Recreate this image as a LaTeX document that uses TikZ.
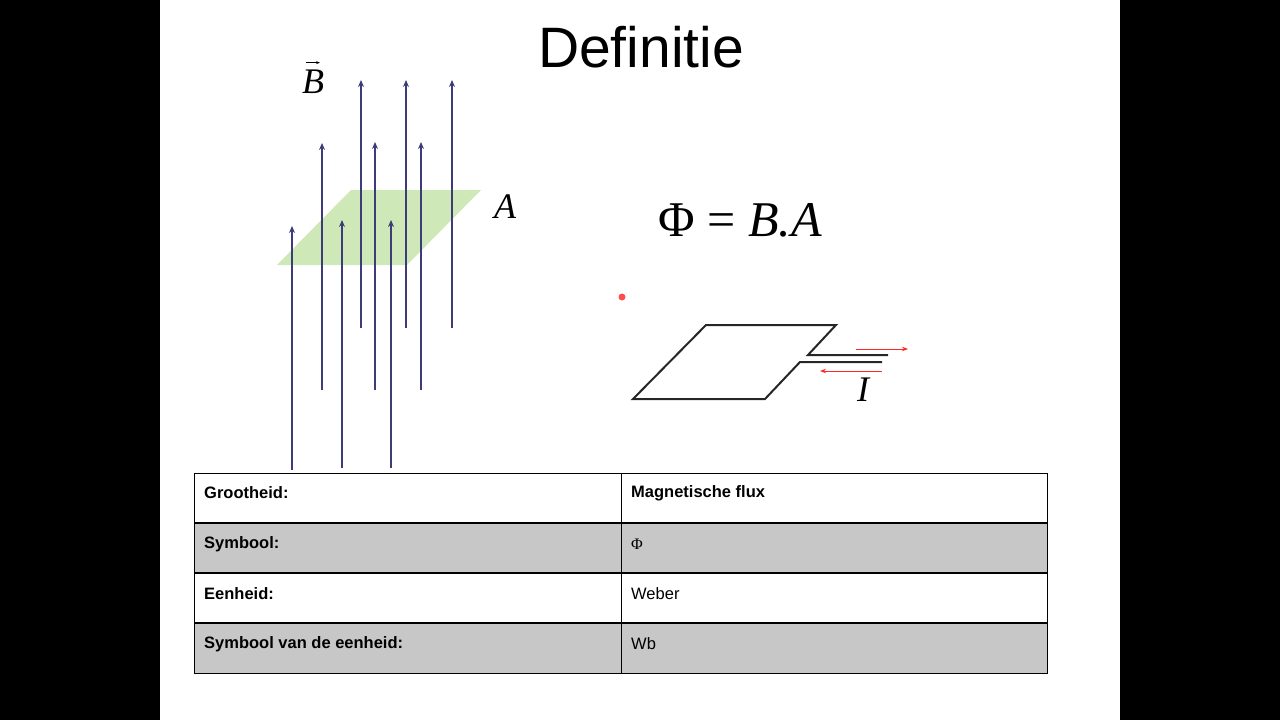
\documentclass[tikz,border=0pt]{standalone}
\usetikzlibrary{arrows.meta}
\usepackage{fontspec}
\setsansfont{Liberation Sans}
\setmainfont{Liberation Serif}
\definecolor{fieldc}{RGB}{60,60,120}
\definecolor{planec}{RGB}{206,232,184}
\begin{document}
\begin{tikzpicture}[x=1pt,y=-1pt,
  fl/.style={draw=fieldc,line width=1.5pt,-{Stealth[length=7pt,width=6pt]}},
  cell/.style={font=\sffamily\fontsize{16.5}{19}\selectfont,anchor=west,inner sep=0pt},
  hd/.style={cell,font=\sffamily\bfseries\fontsize{16.5}{19}\selectfont},
  it/.style={font=\itshape\fontsize{36}{40}\selectfont},
  wire/.style={line width=2pt,draw=black!85},
  cur/.style={draw=red!85,line width=1pt,-{Stealth[length=6pt]}}]
\useasboundingbox (0,0) rectangle (1280,720);
\fill[black] (0,0) rectangle (160,720);
\fill[black] (1120,0) rectangle (1280,720);
\node[font=\sffamily\fontsize{57}{62}\selectfont] (title) at (641,47) {Definitie};
% green plane
\fill[planec] (277,265) -- (407,265) -- (481,190) -- (351,190) -- cycle;
\foreach \x/\t/\b [count=\i] in {292/226/470,322/143/390,342/220/468,361/80/328,375/142/390,391/220/468,406/80/328,421/142/390,452/80/328}{
  \coordinate (s\i) at (\x,\b); \coordinate (e\i) at (\x,\t);
  \draw[fl] (s\i) -- (e\i);}
\node[it] (B) at (313,82) {B};
\coordinate (va) at ([xshift=-7pt,yshift=4pt]B.north);
\coordinate (vb) at ([xshift=7pt,yshift=4pt]B.north);
\draw[-{Stealth[length=4pt]},line width=0.8pt] (va) -- (vb);
\node[it] (A) at (505,207) {A};
\node[font=\fontsize{50}{54}\selectfont] (eq) at (740,220) {Φ = \textit{B.A}};
\fill[red!70] (622,297) circle (3.5pt);
% loop
\coordinate (l1) at (888,355); \coordinate (l2) at (808,355); \coordinate (l3) at (836,325);
\coordinate (l4) at (706,325); \coordinate (l5) at (633,399); \coordinate (l6) at (765,399);
\coordinate (l7) at (800,362); \coordinate (l8) at (882,362);
\draw[wire,line join=miter] (l1) -- (l2) -- (l3) -- (l4) -- (l5) -- (l6) -- (l7) -- (l8);
\coordinate (r1) at (856,349); \coordinate (r2) at (908,349);
\coordinate (r3) at (882,371); \coordinate (r4) at (820,371);
\draw[cur] (r1) -- (r2);
\draw[cur] (r3) -- (r4);
\node[it] (I) at (863,390) {I};
% table
\fill[black!22] (194,523) rectangle (1047,573);
\fill[black!22] (194,623) rectangle (1047,673);
\draw[line width=1pt] (194,473) rectangle (1047,673);
\foreach \y in {523,573,623}{\draw[line width=2pt] (194,\y) -- (1047,\y);}
\draw[line width=1pt] (621,473) -- (621,673);
\node[hd] (c11) at (204,493) {Grootheid:};
\node[hd] (c12) at (631,493) {Magnetische flux};
\node[hd] (c21) at (204,544) {Symbool:};
\node[cell,font=\rmfamily\fontsize{16}{19}\selectfont] (c22) at (631,544) {Φ};
\node[hd] (c31) at (204,594) {Eenheid:};
\node[cell] (c32) at (631,594) {Weber};
\node[hd] (c41) at (204,644) {Symbool van de eenheid:};
\node[cell] (c42) at (631,644) {Wb};
\end{tikzpicture}
\end{document}
